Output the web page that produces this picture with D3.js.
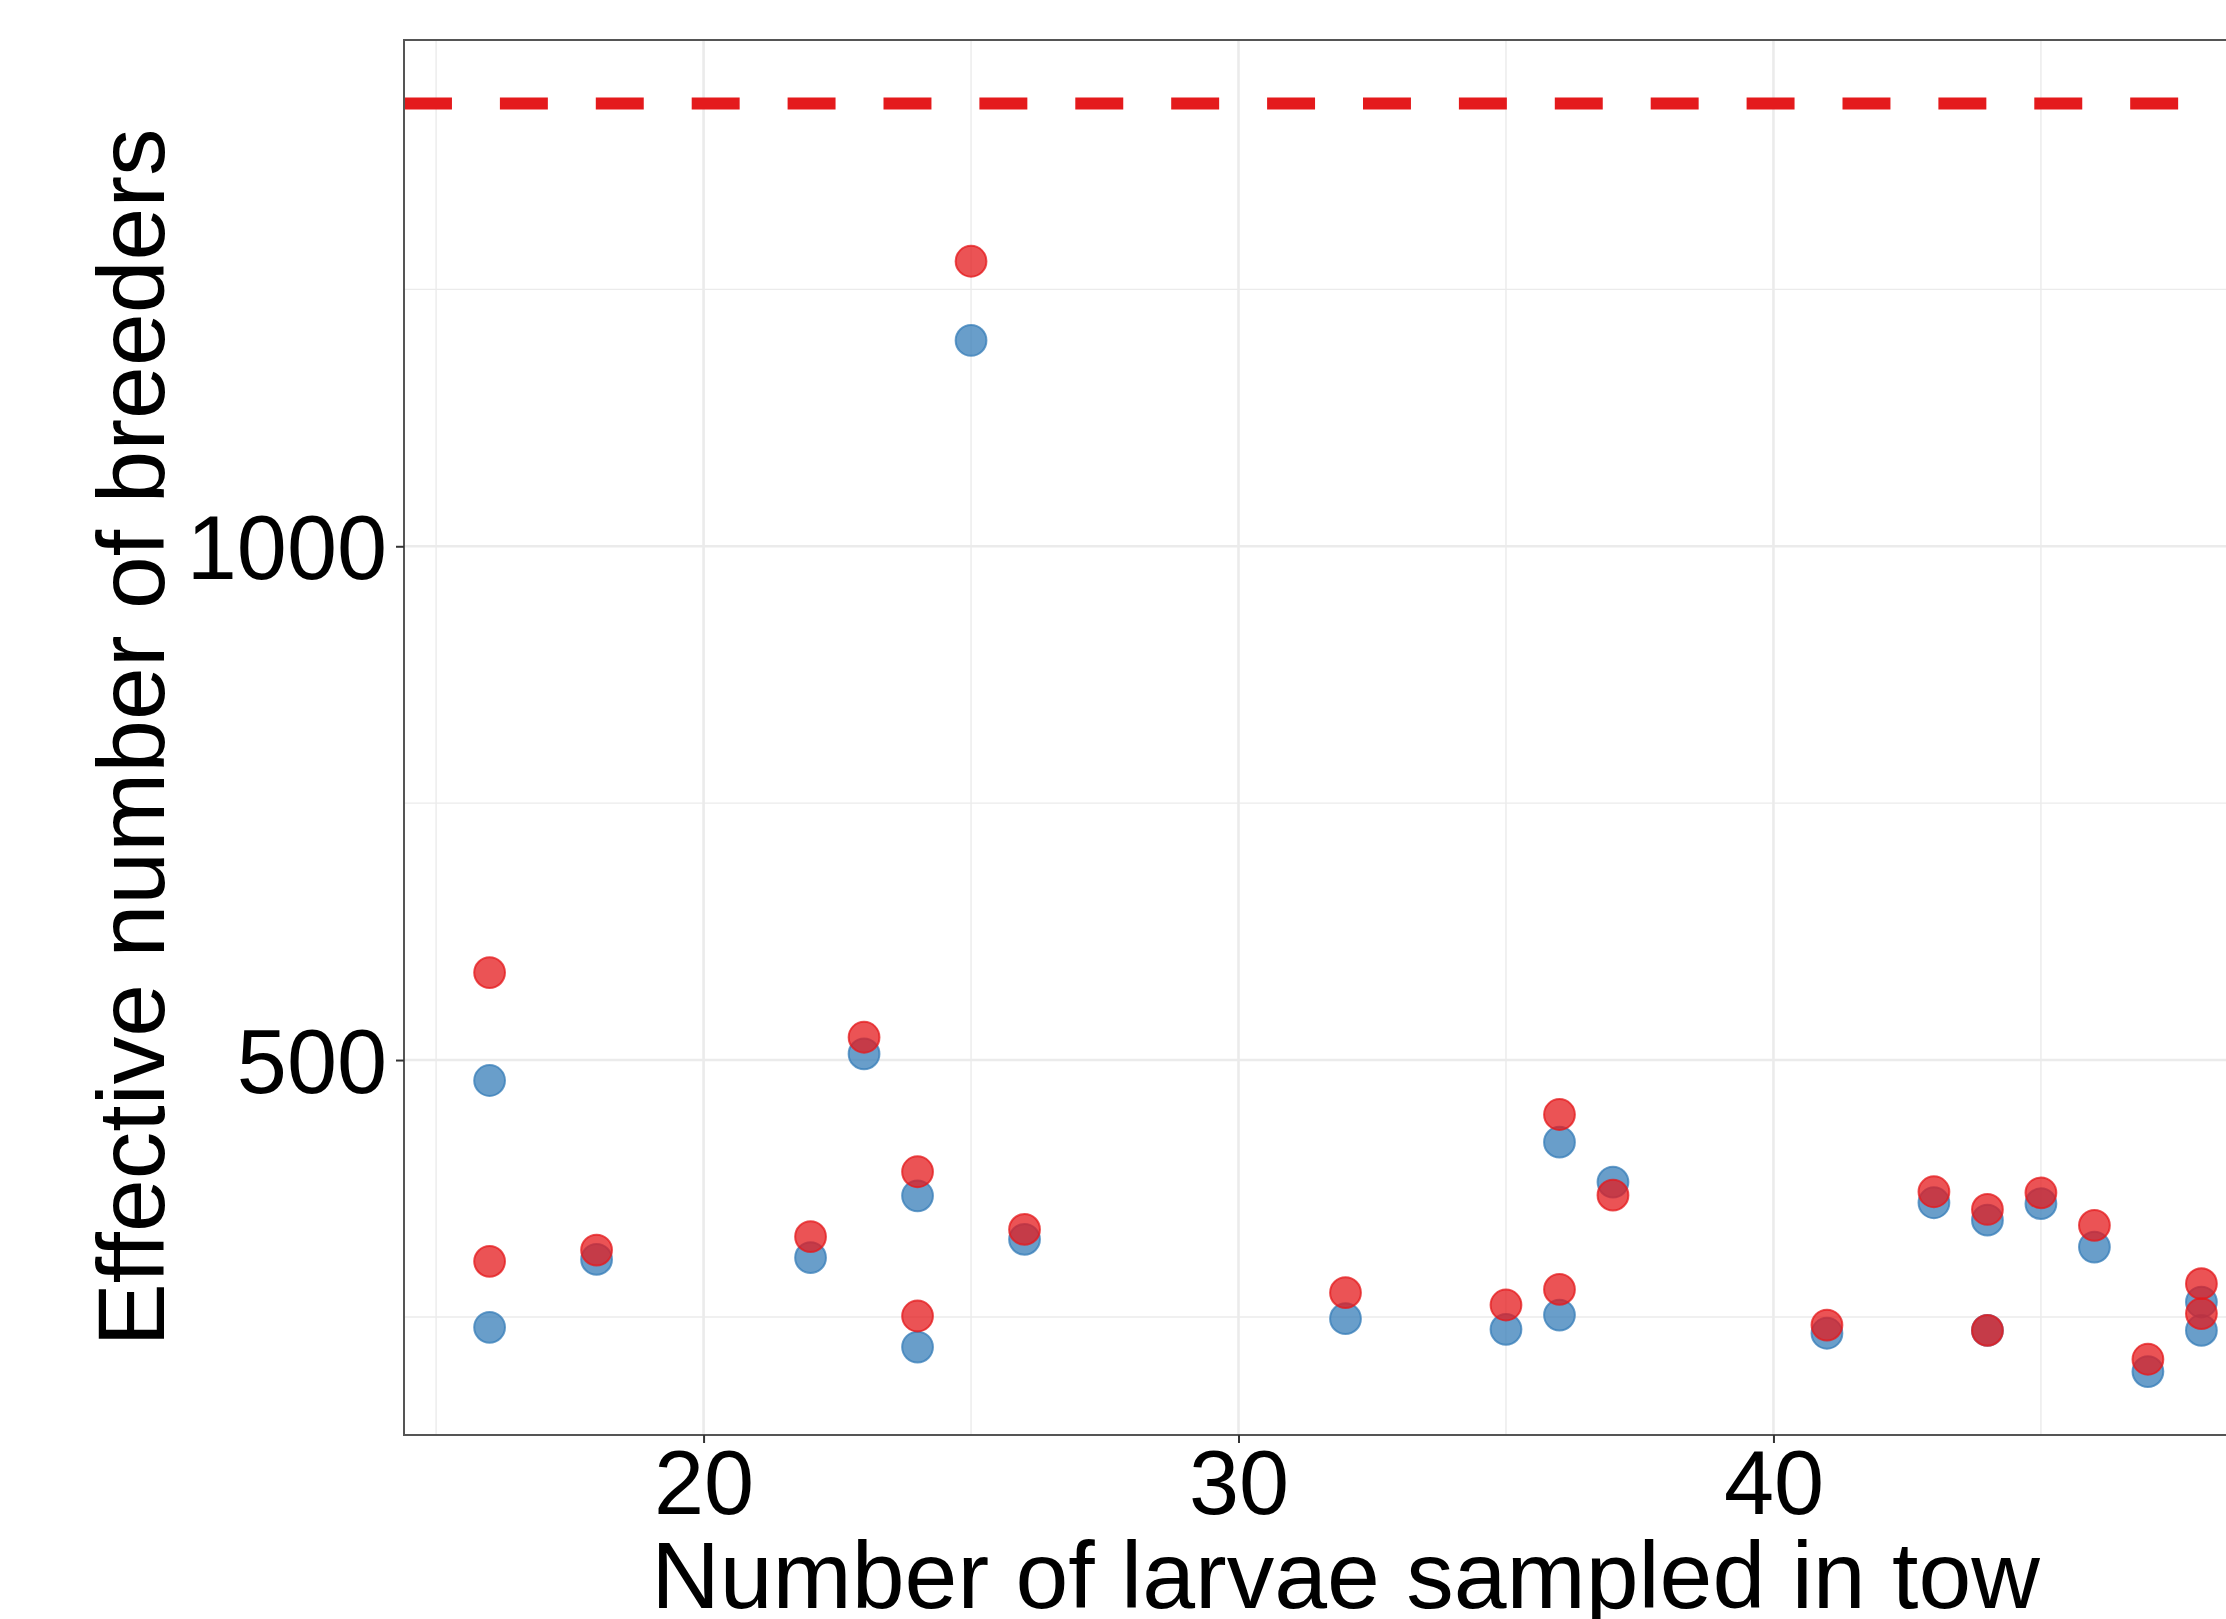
<!DOCTYPE html>
<html>
<head>
<meta charset="utf-8">
<script src="https://cdn.jsdelivr.net/npm/d3@7"></script>
<style>
  html, body { margin: 0; padding: 0; background: #fff; }
  svg { display: block; }
  text { font-family: "Liberation Sans", Arial, sans-serif; }
</style>
</head>
<body>
<svg id="chart" width="2226" height="1619"></svg>
<script>
// ---- data ----
const larvae = [16, 16, 18, 22, 23, 24, 24, 25, 26, 32, 35, 36, 36, 37, 41, 43, 44, 44, 45, 46, 47, 48, 48];
const seriesBlue = [480.1, 239.9, 306.0, 307.7, 506.0, 367.9, 220.7, 1200.3, 325.5, 248.3, 237.9, 420.1, 251.8, 381.2, 234.1, 361.1, 344.2, 236.9, 360.2, 318.0, 196.8, 264.5, 236.9];
const seriesRed  = [585.1, 304.1, 315.1, 328.1, 522.2, 391.3, 250.9, 1277.4, 335.2, 273.6, 261.6, 447.0, 276.8, 368.5, 242.1, 371.8, 354.6, 236.9, 370.8, 339.1, 208.8, 282.4, 253.3];
const referenceLine = 1431;
const xTicks = [20, 30, 40];
const xMinor = [15, 25, 35, 45];
const yTicks = [500, 1000];
const yMinor = [250, 750, 1250];
const xTitle = "Number of larvae sampled in tow";
const yTitle = "Effective number of breeders";

// ---- layout ----
const W = 2226, H = 1619;
const panel = { left: 404, top: 40, right: 2287, bottom: 1435 };
const colBlue = "#377EB8", colRed = "#E41A1C";

const svg = d3.select("#chart");
svg.append("rect").attr("width", W).attr("height", H).attr("fill", "#fff");

function expand(ext) {
  const r = ext[1] - ext[0];
  return [ext[0] - 0.05 * r, ext[1] + 0.05 * r];
}
const xExt = expand(d3.extent(larvae));
const yAll = seriesBlue.concat(seriesRed, [referenceLine]);
const yExt = expand(d3.extent(yAll));

const x = d3.scaleLinear().domain(xExt).range([panel.left, panel.right]);
const y = d3.scaleLinear().domain(yExt).range([panel.bottom, panel.top]);

// clip
svg.append("clipPath").attr("id", "clip")
  .append("rect").attr("x", panel.left).attr("y", panel.top)
  .attr("width", panel.right - panel.left).attr("height", panel.bottom - panel.top);

const g = svg.append("g").attr("clip-path", "url(#clip)");

// grid
g.selectAll(".xminor").data(xMinor).join("line")
  .attr("x1", d => x(d)).attr("x2", d => x(d))
  .attr("y1", panel.top).attr("y2", panel.bottom)
  .attr("stroke", "#ebebeb").attr("stroke-width", 1.4);
g.selectAll(".yminor").data(yMinor).join("line")
  .attr("y1", d => y(d)).attr("y2", d => y(d))
  .attr("x1", panel.left).attr("x2", panel.right)
  .attr("stroke", "#ebebeb").attr("stroke-width", 1.4);
g.selectAll(".xmajor").data(xTicks).join("line")
  .attr("x1", d => x(d)).attr("x2", d => x(d))
  .attr("y1", panel.top).attr("y2", panel.bottom)
  .attr("stroke", "#ebebeb").attr("stroke-width", 2.6);
g.selectAll(".ymajor").data(yTicks).join("line")
  .attr("y1", d => y(d)).attr("y2", d => y(d))
  .attr("x1", panel.left).attr("x2", panel.right)
  .attr("stroke", "#ebebeb").attr("stroke-width", 2.6);

// reference dashed line
g.append("line")
  .attr("x1", panel.left).attr("x2", panel.right)
  .attr("y1", y(referenceLine)).attr("y2", y(referenceLine))
  .attr("stroke", colRed).attr("stroke-width", 12)
  .attr("stroke-dasharray", "47.95,47.95");

// points
function drawPoints(vals, col) {
  g.append("g").selectAll("circle").data(larvae.map((d, i) => [d, vals[i]])).join("circle")
    .attr("cx", d => x(d[0])).attr("cy", d => y(d[1])).attr("r", 15.4)
    .attr("fill", col).attr("fill-opacity", 0.75)
    .attr("stroke", col).attr("stroke-opacity", 0.75).attr("stroke-width", 2);
}
drawPoints(seriesBlue, colBlue);
drawPoints(seriesRed, colRed);

// panel border
svg.append("rect")
  .attr("x", panel.left).attr("y", panel.top)
  .attr("width", panel.right - panel.left).attr("height", panel.bottom - panel.top)
  .attr("fill", "none").attr("stroke", "#555").attr("stroke-width", 2);

// axes
const xAxis = svg.append("g").attr("transform", `translate(0,${panel.bottom})`)
  .call(d3.axisBottom(x).tickValues(xTicks).tickSize(8).tickPadding(7).tickFormat(d3.format("d")));
const yAxis = svg.append("g").attr("transform", `translate(${panel.left},0)`)
  .call(d3.axisLeft(y).tickValues(yTicks).tickSize(8).tickPadding(9).tickFormat(d3.format("d")));
[xAxis, yAxis].forEach(a => {
  a.select(".domain").remove();
  a.selectAll(".tick line").attr("stroke", "#333").attr("stroke-width", 2);
  a.selectAll(".tick text").attr("fill", "#000").style("font-size", "90px")
    .style("font-family", "'Liberation Sans', Arial, sans-serif");
});
yAxis.selectAll(".tick text").attr("dy", "0.36em");

// titles
svg.append("text")
  .attr("x", (panel.left + panel.right) / 2).attr("y", 1608)
  .attr("text-anchor", "middle").attr("fill", "#000")
  .style("font-size", "95px").text(xTitle);
svg.append("text")
  .attr("transform", `translate(164,${(panel.top + panel.bottom) / 2}) rotate(-90)`)
  .attr("text-anchor", "middle").attr("fill", "#000")
  .style("font-size", "95px").text(yTitle);
</script>
</body>
</html>
